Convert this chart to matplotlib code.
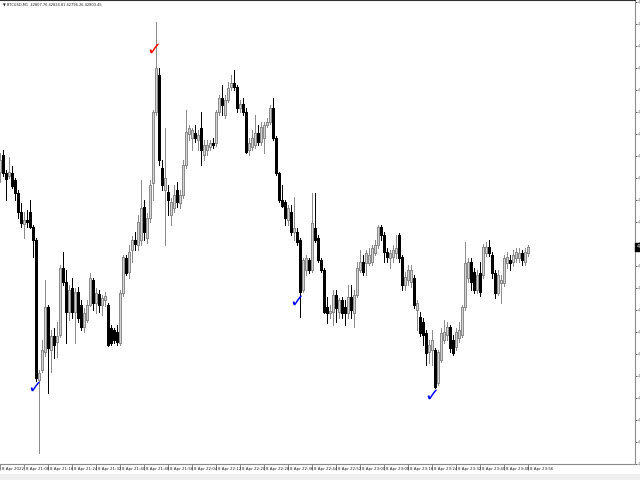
#!/usr/bin/env python3
# -*- coding: utf-8 -*-
"""
Grafico de velas M1 do BTCUSD (estilo MetaTrader), 8 Apr 21:00 -> 23:56,
com os sinais de compra (azul) e venda (vermelho). Saida: out.png
"""
import numpy as np
import matplotlib
matplotlib.use("Agg")
import matplotlib.pyplot as plt
from matplotlib.patches import Rectangle
import matplotlib.transforms as mtransforms

# OHLC de cada vela
OPEN = [42878, 42895, 42877, 42874, 42877, 42870, 42857, 42838, 42826, 42830,
        42838, 42823, 42810, 42670, 42680, 42698, 42743, 42700, 42714, 42708,
        42715, 42782, 42768, 42738, 42762, 42738, 42758, 42745, 42723, 42730,
        42745, 42770, 42747, 42756, 42745, 42750, 42745, 42722, 42720, 42718,
        42707, 42757, 42792, 42778, 42800, 42810, 42805, 42810, 42843, 42812,
        42832, 42867, 42938, 42975, 42882, 42860, 42858, 42835, 42842, 42860,
        42847, 42855, 42885, 42916, 42912, 42917, 42910, 42922, 42895, 42900,
        42903, 42907, 42907, 42938, 42952, 42935, 42950, 42963, 42967, 42963,
        42942, 42946, 42938, 42900, 42903, 42905, 42917, 42908, 42912, 42925,
        42928, 42942, 42912, 42877, 42850, 42848, 42830, 42838, 42818, 42818,
        42810, 42760, 42780, 42790, 42780, 42822, 42812, 42790, 42780, 42743,
        42737, 42738, 42755, 42738, 42750, 42743, 42737, 42753, 42737, 42755,
        42780, 42788, 42787, 42787, 42788, 42797, 42805, 42823, 42815, 42798,
        42792, 42793, 42797, 42815, 42793, 42765, 42770, 42768, 42772, 42740,
        42733, 42728, 42717, 42698, 42700, 42700, 42667, 42690, 42710, 42715,
        42723, 42710, 42703, 42712, 42715, 42743, 42772, 42788, 42778, 42760,
        42777, 42775, 42797, 42803, 42795, 42777, 42757, 42767, 42767, 42787,
        42790, 42788, 42792, 42792, 42797, 42788, 42797]
HIGH = [42897, 42900, 42880, 42893, 42884, 42872, 42860, 42847, 42838, 42840,
        42850, 42825, 42812, 42680, 42710, 42770, 42745, 42720, 42722, 42728,
        42785, 42798, 42780, 42765, 42772, 42762, 42763, 42750, 42742, 42750,
        42777, 42772, 42762, 42760, 42755, 42758, 42747, 42725, 42722, 42725,
        42760, 42795, 42795, 42805, 42814, 42818, 42835, 42870, 42850, 42837,
        42870, 42940, 43028, 42982, 42890, 42922, 42865, 42852, 42865, 42868,
        42860, 42890, 42940, 42925, 42922, 42925, 42920, 42938, 42910, 42910,
        42910, 42912, 42940, 42955, 42965, 42955, 42968, 42975, 42980, 42965,
        42950, 42952, 42942, 42912, 42920, 42935, 42925, 42928, 42928, 42932,
        42945, 42952, 42914, 42878, 42865, 42850, 42845, 42845, 42853, 42822,
        42812, 42792, 42795, 42792, 42857, 42857, 42815, 42792, 42782, 42753,
        42745, 42760, 42760, 42752, 42753, 42750, 42765, 42765, 42760, 42788,
        42800, 42795, 42800, 42802, 42805, 42810, 42825, 42825, 42818, 42802,
        42800, 42805, 42815, 42817, 42795, 42778, 42785, 42785, 42775, 42750,
        42738, 42732, 42720, 42710, 42720, 42702, 42700, 42722, 42730, 42728,
        42725, 42715, 42722, 42728, 42745, 42808, 42792, 42792, 42782, 42780,
        42788, 42806, 42808, 42810, 42798, 42780, 42780, 42775, 42795, 42798,
        42795, 42800, 42802, 42802, 42800, 42802, 42805]
LOW = [42868, 42874, 42850, 42872, 42862, 42850, 42832, 42823, 42812, 42823,
       42822, 42793, 42669, 42597, 42678, 42694, 42657, 42678, 42692, 42693,
       42713, 42765, 42707, 42730, 42732, 42707, 42728, 42720, 42718, 42728,
       42744, 42740, 42737, 42738, 42735, 42744, 42704, 42705, 42707, 42705,
       42705, 42754, 42775, 42772, 42788, 42800, 42800, 42805, 42810, 42807,
       42828, 42850, 42935, 42885, 42860, 42805, 42835, 42825, 42838, 42843,
       42842, 42852, 42882, 42910, 42900, 42908, 42900, 42885, 42890, 42895,
       42900, 42902, 42904, 42935, 42935, 42932, 42948, 42960, 42960, 42938,
       42938, 42935, 42897, 42895, 42900, 42902, 42905, 42905, 42897, 42923,
       42926, 42910, 42875, 42848, 42843, 42825, 42825, 42815, 42810, 42805,
       42733, 42758, 42775, 42777, 42778, 42808, 42788, 42778, 42737, 42727,
       42732, 42725, 42728, 42732, 42732, 42725, 42732, 42732, 42723, 42753,
       42778, 42775, 42775, 42785, 42785, 42795, 42802, 42810, 42788, 42788,
       42782, 42788, 42792, 42788, 42760, 42760, 42765, 42763, 42742, 42720,
       42714, 42705, 42685, 42687, 42685, 42662, 42665, 42688, 42707, 42710,
       42698, 42695, 42700, 42708, 42713, 42740, 42768, 42760, 42757, 42757,
       42754, 42772, 42794, 42794, 42772, 42752, 42755, 42747, 42764, 42782,
       42780, 42784, 42788, 42788, 42785, 42785, 42794]
CLOSE = [42890, 42877, 42871, 42878, 42864, 42857, 42838, 42827, 42830, 42828,
         42823, 42810, 42672, 42677, 42700, 42743, 42702, 42714, 42705, 42714,
         42782, 42768, 42738, 42760, 42738, 42758, 42732, 42723, 42737, 42745,
         42772, 42747, 42757, 42745, 42752, 42754, 42705, 42707, 42710, 42708,
         42757, 42793, 42777, 42798, 42810, 42806, 42828, 42842, 42818, 42832,
         42865, 42938, 42982, 42890, 42865, 42872, 42850, 42848, 42855, 42848,
         42855, 42885, 42918, 42922, 42920, 42912, 42915, 42900, 42905, 42905,
         42907, 42905, 42938, 42952, 42945, 42950, 42962, 42967, 42963, 42942,
         42946, 42938, 42898, 42907, 42912, 42917, 42908, 42923, 42925, 42928,
         42942, 42912, 42877, 42850, 42844, 42832, 42842, 42818, 42822, 42808,
         42758, 42790, 42792, 42780, 42827, 42810, 42790, 42780, 42738, 42737,
         42739, 42755, 42742, 42750, 42737, 42737, 42753, 42740, 42755, 42782,
         42788, 42778, 42797, 42795, 42802, 42805, 42823, 42815, 42798, 42793,
         42797, 42800, 42802, 42792, 42765, 42773, 42780, 42780, 42745, 42747,
         42717, 42715, 42697, 42705, 42710, 42663, 42698, 42717, 42718, 42723,
         42702, 42697, 42718, 42720, 42743, 42787, 42788, 42768, 42760, 42775,
         42758, 42803, 42803, 42797, 42777, 42757, 42775, 42770, 42792, 42793,
         42787, 42795, 42798, 42797, 42790, 42798, 42803]

# sinais (indice da vela, preco) e cor
SINAL_IDX = [51.3, 11.7, 99.0, 144.0]
SINAL_PRECO = [43000, 42662, 42748, 42654]
SINAL_COR = ["red", "blue", "blue", "blue"]

# eixo de tempo: um rotulo a cada 8 velas
DATAS = ["8 Apr 2022", "8 Apr 21:08", "8 Apr 21:16", "8 Apr 21:24", "8 Apr 21:32",
         "8 Apr 21:40", "8 Apr 21:48", "8 Apr 21:56", "8 Apr 22:04", "8 Apr 22:12",
         "8 Apr 22:20", "8 Apr 22:28", "8 Apr 22:36", "8 Apr 22:44", "8 Apr 22:52",
         "8 Apr 23:00", "8 Apr 23:08", "8 Apr 23:16", "8 Apr 23:24", "8 Apr 23:32",
         "8 Apr 23:40", "8 Apr 23:48", "8 Apr 23:56"]
PRECO_TICKS = [43048 - 22 * k for k in range(22)]
TITULO = "\u25bc BTCUSD,M1  42807.76 42824.81 42796.26 42803.45"

o = np.array(OPEN, float)
h = np.array(HIGH, float)
l = np.array(LOW, float)
c = np.array(CLOSE, float)
x = np.arange(len(o))
alta = c >= o

fig = plt.figure(figsize=(6.4, 4.8), dpi=100)
fig.patches.append(Rectangle((0, 0), 1, 6 / 480, transform=fig.transFigure,
                             color="#f0f0f0", zorder=0))
ax = fig.add_axes([0, 16 / 480, 635 / 640, 464 / 480])
ax.set_xlim(0, 635 / 3)
ax.set_ylim(43050 - 464, 43050)

# sombras
cor_sombra = np.where(alta, "#8c8c8c", "#000000")
ax.vlines(x, l, h, colors=cor_sombra, linewidth=0.72, antialiased=False, zorder=2)

# corpos
base = np.minimum(o, c)
alt = np.maximum(np.abs(c - o), 1.0)
ax.bar(x[alta], alt[alta], bottom=base[alta], width=0.68, color="#d4d4d4",
       edgecolor="#8c8c8c", linewidth=0.5, antialiased=False, zorder=3)
ax.bar(x[~alta], alt[~alta], bottom=base[~alta], width=0.68, color="black",
       edgecolor="black", linewidth=0.5, antialiased=False, zorder=3)

# sinais
for si, sp, sc in zip(SINAL_IDX, SINAL_PRECO, SINAL_COR):
    ax.text(si, sp, "\u2713", color=sc, fontsize=13, ha="center", va="center", zorder=5)

# eixos no estilo MT4
ax.spines["left"].set_visible(False)
ax.spines["top"].set_color("#303030")
ax.spines["right"].set_color("#8c8c8c")
ax.spines["bottom"].set_color("#8c8c8c")

ax.yaxis.tick_right()
ax.set_yticks(PRECO_TICKS)
ax.set_yticklabels([f"{p:.2f}" for p in PRECO_TICKS])
ax.tick_params(axis="y", direction="out", length=1.5, width=0.7, colors="#606060",
               labelsize=3.5, pad=0.8)

ax.set_xticks(np.arange(len(DATAS)) * 8)
ax.set_xticklabels([])
ax.tick_params(axis="x", direction="out", length=4.5, width=0.7, colors="#8c8c8c")
trans_x = mtransforms.blended_transform_factory(ax.transData, ax.transAxes)
for k, d in enumerate(DATAS):
    ax.text(k * 8 + 0.6, -3 / 464, d, transform=trans_x, fontsize=2.9, ha="left",
            va="top", color="#202020", clip_on=False)

# titulo e preco atual
ax.text(3 / 635, 1 - 3 / 464, TITULO, transform=ax.transAxes, fontsize=2.6,
        ha="left", va="top", color="#202020")
ax.text(1 + 1.5 / 635, c[-1], f"{c[-1]:.2f}", color="white", fontsize=3.5,
        va="center", ha="left", clip_on=False, zorder=6,
        transform=mtransforms.blended_transform_factory(ax.transAxes, ax.transData),
        bbox=dict(boxstyle="square,pad=0.25", fc="black", ec="black"))

fig.savefig("out.png", dpi=100)
plt.close(fig)
